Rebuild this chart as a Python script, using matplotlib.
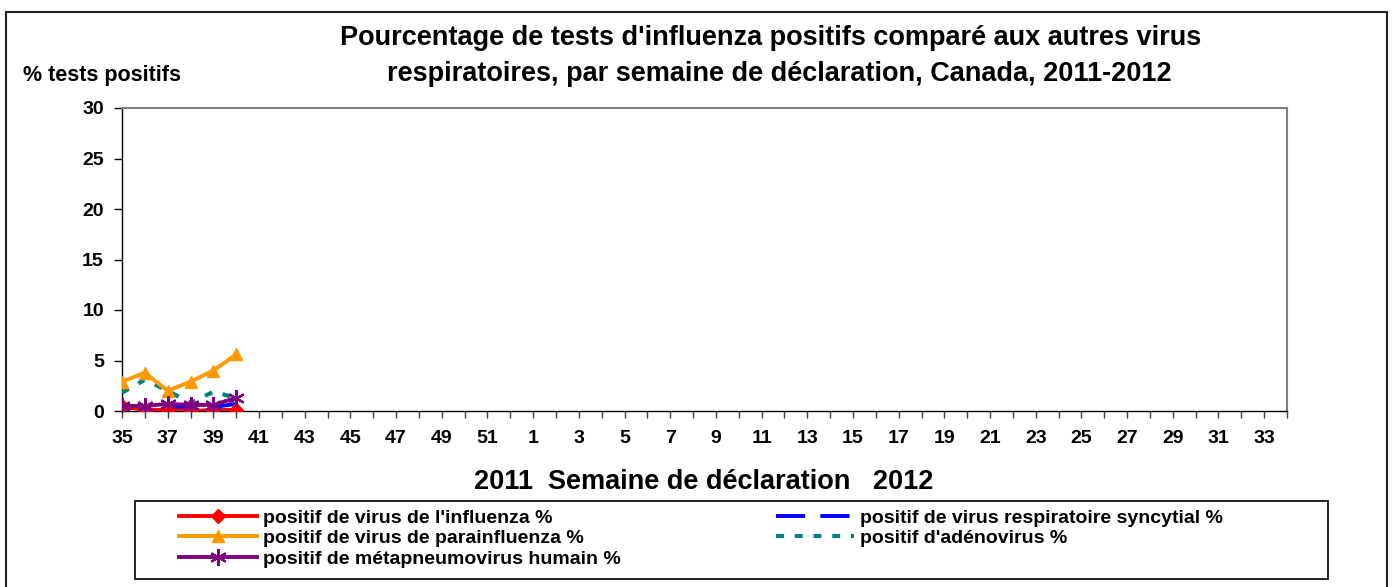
import matplotlib
matplotlib.use("Agg")
import matplotlib.pyplot as plt
import numpy as np
from matplotlib.patches import Rectangle

plt.rcParams['font.family'] = ['Liberation Sans', 'DejaVu Sans']
plt.rcParams['font.weight'] = 'bold'

weeks = list(range(35, 53)) + list(range(1, 35))
data_weeks = [35, 36, 37, 38, 39, 40]
influenza = [0.5, 0.1, 0.1, 0.0, 0.1, 0.1]
rsv = [0.3, 0.3, 0.3, 0.3, 0.4, 0.7]
parainfluenza = [2.9, 3.8, 2.0, 2.9, 4.0, 5.6]
adenovirus = [1.8, 3.1, 2.0, 0.8, 1.9, 1.3]
hmpv = [0.5, 0.5, 0.7, 0.6, 0.6, 1.3]

labels = ["positif de virus de l'influenza %",
          "positif de virus respiratoire syncytial %",
          "positif de virus de parainfluenza %",
          "positif d'adénovirus %",
          "positif de métapneumovirus humain %"]

W, H = 1393, 587
fig = plt.figure(figsize=(W / 100, H / 100), dpi=100)
ax = fig.add_axes([122 / W, 1 - 411 / H, (1287 - 122) / W, (411 - 108) / H])

xpos = [weeks.index(w) for w in data_weeks]

l_rsv, = ax.plot(xpos, rsv, color='#0000FF', lw=2.8, dashes=(7.5, 3.9), zorder=3)
l_ad, = ax.plot(xpos, adenovirus, color='#008080', lw=3, dashes=(1.9, 2.6), zorder=3)
l_para, = ax.plot(xpos, parainfluenza, color='#FF9900', lw=2.8, marker='^', ms=8.5, zorder=4)
l_flu, = ax.plot(xpos, influenza, color='#FF0000', lw=2.8, marker='D', ms=7.5, zorder=5)
l_hm, = ax.plot(xpos, hmpv, color='#800080', lw=2.8, marker=(6, 2, 0), ms=12, mew=1.6, zorder=6)

ax.set_xlim(0, len(weeks) - 1)
ax.set_ylim(0, 30)
ax.set_yticks([0, 5, 10, 15, 20, 25, 30])
ax.set_xticks(range(len(weeks)))
ax.set_xticklabels([str(w) if i % 2 == 0 else '' for i, w in enumerate(weeks)])
ax.tick_params(axis='both', labelsize=14, width=1, direction='out')
ax.tick_params(axis='x', length=5, pad=9, color='#404040')
ax.tick_params(axis='y', length=6, pad=7)
for lab in ax.get_xticklabels() + ax.get_yticklabels():
    lab.set_fontweight('bold')

for s in ['top', 'right']:
    ax.spines[s].set_color('#808080')
    ax.spines[s].set_linewidth(1.5)
for s in ['left', 'bottom']:
    ax.spines[s].set_color('black')
    ax.spines[s].set_linewidth(1)

fig.text(704 / W, 1 - 482 / H, "2011  Semaine de déclaration   2012",
         ha='center', va='center', fontsize=19.5, fontweight='bold')

fig.text(771 / W, 1 - 38 / H,
         "Pourcentage de tests d'influenza positifs comparé aux autres virus",
         ha='center', va='center', fontsize=19.5, fontweight='bold')
fig.text(779 / W, 1 - 74 / H,
         "respiratoires, par semaine de déclaration, Canada, 2011-2012",
         ha='center', va='center', fontsize=19.5, fontweight='bold')
fig.text(23 / W, 1 - 76 / H, "% tests positifs", ha='left', va='center',
         fontsize=15.5, fontweight='bold')

# outer frame
fig.patches.append(Rectangle((6 / W, -0.02), (1387 - 6) / W, 1.02 - 12 / H,
                             transform=fig.transFigure, fill=False,
                             edgecolor='#202020', lw=1.5))

# legend frame
fig.patches.append(Rectangle((135 / W, 1 - 579 / H), (1328 - 135) / W, (579 - 501) / H,
                             transform=fig.transFigure, fill=False,
                             edgecolor='black', lw=1.2))

leg_kw = dict(loc='upper left', frameon=False,
              prop={'size': 14, 'weight': 'bold'}, handlelength=4.0,
              borderpad=0, labelspacing=0.15, handletextpad=0.3,
              borderaxespad=0)
leg1 = fig.legend([l_flu, l_para, l_hm], [labels[0], labels[2], labels[4]],
                  bbox_to_anchor=(179 / W, 1 - 509 / H), **leg_kw)
leg2 = fig.legend([l_rsv, l_ad], [labels[1], labels[3]],
                  bbox_to_anchor=(776 / W, 1 - 509 / H), **leg_kw)

fig.savefig("out.png", dpi=100)
